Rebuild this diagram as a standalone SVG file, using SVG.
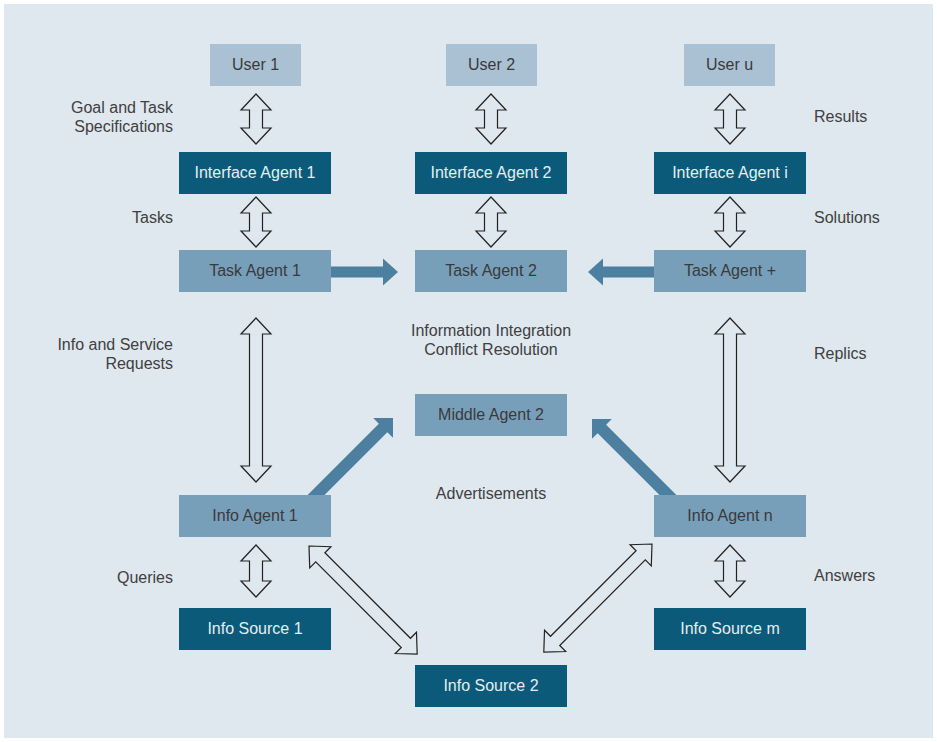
<svg xmlns="http://www.w3.org/2000/svg" width="937" height="742" viewBox="0 0 937 742">
  <style>
    text { font-family: "Liberation Sans", Arial, sans-serif; font-size: 16px; }
    .lbl { fill: #404040; }
    .mid { text-anchor: middle; }
    .end { text-anchor: end; }
    .user { fill: #a9c1d3; }
    .agent { fill: #789fba; }
    .dark { fill: #0b5a79; }
    .tdark { fill: #3a3a3a; }
    .tlight { fill: #e6eef3; }
    .outline { fill: #ffffff; fill-opacity: 0; stroke: #222222; stroke-width: 1.2; stroke-linejoin: miter; }
    .solid { fill: #4d80a0; }
  </style>
  <defs>
    <!-- hollow double-headed arrows, tip at origin pointing down -->
    <path id="dbl50" d="M0,0 L15,16 L6.5,16 L6.5,34 L15,34 L0,50 L-15,34 L-6.5,34 L-6.5,16 L-15,16 Z"/>
    <path id="dbl52" d="M0,0 L15,16 L6.5,16 L6.5,36 L15,36 L0,52 L-15,36 L-6.5,36 L-6.5,16 L-15,16 Z"/>
    <path id="dbl164" d="M0,0 L15,16 L6.5,16 L6.5,148 L15,148 L0,164 L-15,148 L-6.5,148 L-6.5,16 L-15,16 Z"/>
    <!-- hollow double-headed arrow along +x -->
    <path id="dbl153" d="M0,0 L16,-15 L16,-6.5 L137,-6.5 L137,-15 L153,0 L137,15 L137,6.5 L16,6.5 L16,15 Z"/>
    <!-- solid single arrow along +x, tip at x=125 -->
    <path id="solid125" d="M0,-6 L111,-6 L111,-14 L125,0 L111,14 L111,6 L0,6 Z"/>
  </defs>

  <!-- panel -->
  <rect x="0" y="0" width="937" height="742" fill="#ffffff"/>
  <rect x="4" y="4" width="929" height="734" fill="#dfe7ef"/>

  <!-- connectors -->
  <g id="connectors">
    <use href="#dbl50" class="outline" transform="translate(256,94)"/>
    <use href="#dbl50" class="outline" transform="translate(491,94)"/>
    <use href="#dbl50" class="outline" transform="translate(730,94)"/>
    <use href="#dbl50" class="outline" transform="translate(256,197)"/>
    <use href="#dbl50" class="outline" transform="translate(491,197)"/>
    <use href="#dbl50" class="outline" transform="translate(730,197)"/>
    <use href="#dbl164" class="outline" transform="translate(256,318)"/>
    <use href="#dbl164" class="outline" transform="translate(730,318)"/>
    <use href="#dbl52" class="outline" transform="translate(256,545)"/>
    <use href="#dbl52" class="outline" transform="translate(730,545)"/>
    <use href="#dbl153" class="outline" transform="translate(309,546) rotate(45)"/>
    <use href="#dbl153" class="outline" transform="translate(652,544) rotate(135)"/>
    <!-- solid arrows toward Task Agent 2 -->
    <path class="solid" d="M331,266.5 L383,266.5 L383,258.5 L398,272 L383,285.5 L383,277.5 L331,277.5 Z"/>
    <path class="solid" d="M654,266.5 L603,266.5 L603,258.5 L588,272 L603,285.5 L603,277.5 L654,277.5 Z"/>
    <!-- solid arrows toward Middle Agent 2 -->
    <use href="#solid125" class="solid" transform="translate(304.6,506.4) rotate(-45)"/>
    <use href="#solid125" class="solid" transform="translate(680.4,507.4) rotate(-135)"/>
  </g>

  <!-- nodes -->
  <g id="user1"><rect class="user" x="210" y="44" width="91" height="42"/><text class="tdark mid" x="255.5" y="70">User 1</text></g>
  <g id="user2"><rect class="user" x="446" y="44" width="91" height="42"/><text class="tdark mid" x="491.5" y="70">User 2</text></g>
  <g id="useru"><rect class="user" x="684" y="44" width="91" height="42"/><text class="tdark mid" x="729.5" y="70">User u</text></g>

  <g id="interface1"><rect class="dark" x="179" y="152" width="152" height="42"/><text class="tlight mid" x="255" y="178">Interface Agent 1</text></g>
  <g id="interface2"><rect class="dark" x="415" y="152" width="152" height="42"/><text class="tlight mid" x="491" y="178">Interface Agent 2</text></g>
  <g id="interfacei"><rect class="dark" x="654" y="152" width="152" height="42"/><text class="tlight mid" x="730" y="178">Interface Agent i</text></g>

  <g id="task1"><rect class="agent" x="179" y="250" width="152" height="42"/><text class="tdark mid" x="255" y="276">Task Agent 1</text></g>
  <g id="task2"><rect class="agent" x="415" y="250" width="152" height="42"/><text class="tdark mid" x="491" y="276">Task Agent 2</text></g>
  <g id="taskplus"><rect class="agent" x="654" y="250" width="152" height="42"/><text class="tdark mid" x="730" y="276">Task Agent +</text></g>

  <g id="middle2"><rect class="agent" x="415" y="394" width="152" height="42"/><text class="tdark mid" x="491" y="420">Middle Agent 2</text></g>

  <g id="info1"><rect class="agent" x="179" y="495" width="152" height="42"/><text class="tdark mid" x="255" y="521">Info Agent 1</text></g>
  <g id="infon"><rect class="agent" x="654" y="495" width="152" height="42"/><text class="tdark mid" x="730" y="521">Info Agent n</text></g>

  <g id="source1"><rect class="dark" x="179" y="608" width="152" height="42"/><text class="tlight mid" x="255" y="634">Info Source 1</text></g>
  <g id="source2"><rect class="dark" x="415" y="665" width="152" height="42"/><text class="tlight mid" x="491" y="691">Info Source 2</text></g>
  <g id="sourcem"><rect class="dark" x="654" y="608" width="152" height="42"/><text class="tlight mid" x="730" y="634">Info Source m</text></g>

  <!-- labels -->
  <g id="labels">
    <text class="lbl end" x="173" y="113">Goal and Task</text>
    <text class="lbl end" x="173" y="132">Specifications</text>
    <text class="lbl end" x="173" y="223">Tasks</text>
    <text class="lbl end" x="173" y="350">Info and Service</text>
    <text class="lbl end" x="173" y="369">Requests</text>
    <text class="lbl end" x="173" y="583">Queries</text>
    <text class="lbl" x="814" y="122">Results</text>
    <text class="lbl" x="814" y="223">Solutions</text>
    <text class="lbl" x="814" y="359">Replics</text>
    <text class="lbl" x="814" y="581">Answers</text>
    <text class="lbl mid" x="491" y="336">Information Integration</text>
    <text class="lbl mid" x="491" y="355">Conflict Resolution</text>
    <text class="lbl mid" x="491" y="499">Advertisements</text>
  </g>
</svg>
